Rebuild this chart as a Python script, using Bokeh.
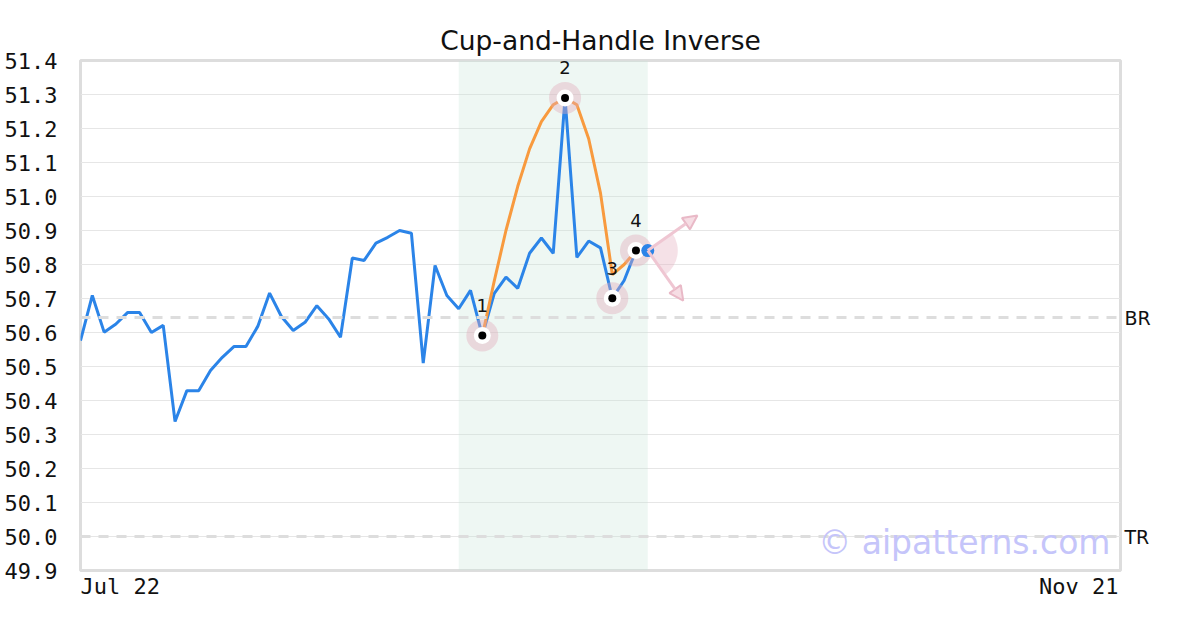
import math
from bokeh.plotting import figure
from bokeh.models import (ColumnDataSource, Span, Label, BoxAnnotation, Arrow, NormalHead,
                          FixedTicker, Range1d, PrintfTickFormatter, LinearAxis)
from bokeh.embed import file_html
from bokeh.resources import INLINE
from bokeh.core.properties import value

# ---------------- data ----------------
title_text = "Cup-and-Handle Inverse"
start_label = "Jul 22"
end_label = "Nov 21"
n_slots = 88  # business days from Jul 22 to Nov 21

price = [50.576, 50.709, 50.601, 50.625, 50.659, 50.659, 50.600, 50.621, 50.338, 50.429,
         50.429, 50.488, 50.527, 50.559, 50.559, 50.618, 50.716, 50.647, 50.606, 50.630,
         50.679, 50.640, 50.586, 50.819, 50.812, 50.863, 50.880, 50.900, 50.892, 50.510,
         50.797, 50.709, 50.670, 50.724, 50.591, 50.714, 50.763, 50.730, 50.833, 50.878,
         50.833, 51.290, 50.821, 50.869, 50.849, 50.701, 50.753, 50.841, 50.841]
price_idx = list(range(len(price)))

fit_idx = [34, 35, 36, 37, 38, 39, 40, 41, 42, 43, 44, 45, 46, 47]
fit_val = [50.59, 50.75, 50.90, 51.03, 51.14, 51.22, 51.27, 51.29, 51.27, 51.17, 51.01,
           50.77, 50.80, 50.84]

pivot_idx = [34, 41, 45, 47]
pivot_val = [50.591, 51.290, 50.701, 50.841]
pivot_lbl = ["1", "2", "3", "4"]

zone_start, zone_end = 32, 48
br_level = 50.644
tr_level = 50.0

proj_from = (48, 50.841)
proj_up = (52.2, 50.944)
proj_down = (51.0, 50.694)

y_ticks = [49.9, 50.0, 50.1, 50.2, 50.3, 50.4, 50.5, 50.6, 50.7, 50.8, 50.9, 51.0, 51.1,
           51.2, 51.3, 51.4]

# ---------------- figure ----------------
BLUE = "#2b84e8"
ORANGE = "#f89a3e"
PINK = "#e2a9ba"
TXT = "#111111"

FRAME_W = 1040
XFONT = 22
p = figure(width=1184, height=614, output_backend="svg", toolbar_location=None,
           x_range=Range1d(0, n_slots), y_range=Range1d(49.9, 51.4),
           min_border_left=80, min_border_right=64, min_border_top=60, min_border_bottom=44)
p.background_fill_color = "white"
p.border_fill_color = "white"
p.outline_line_color = "#dddddd"
p.outline_line_width = 3

p.title.text = title_text
p.title.align = "center"
p.title.text_font = "DejaVu Sans"
p.title.text_font_size = "26.5px"
p.title.text_font_style = "normal"
p.title.text_color = TXT

# x axis: only the two end dates, aligned inward with the frame edges
xa = p.xaxis[0]
nb = "\u00a0"
px_per_unit = FRAME_W / n_slots
end_tick = n_slots - (len(end_label) * 0.602 * XFONT / 2 + 2) / px_per_unit
xa.ticker = FixedTicker(ticks=[0, end_tick])
xa.major_label_overrides = {0: nb * len(start_label) + start_label, end_tick: end_label}
xa.axis_line_color = None
xa.major_tick_line_color = None
xa.minor_tick_line_color = None
xa.major_label_standoff = -3
xa.major_label_text_font = "DejaVu Sans Mono"
xa.major_label_text_font_size = f"{XFONT}px"
xa.major_label_text_color = TXT

p.xgrid.visible = False
p.ygrid.grid_line_color = "#e6e6e6"
p.ygrid.grid_line_width = 1

ya = p.yaxis[0]
ya.ticker = FixedTicker(ticks=y_ticks)
ya.formatter = PrintfTickFormatter(format="%.1f")
ya.axis_line_color = None
ya.major_tick_line_color = None
ya.minor_tick_line_color = None
ya.major_label_standoff = 17
ya.major_label_text_font = "DejaVu Sans Mono"
ya.major_label_text_font_size = "22px"
ya.major_label_text_color = TXT

# right axis for level names
ra = LinearAxis(ticker=FixedTicker(ticks=[br_level, tr_level]),
                major_label_overrides={br_level: "BR", tr_level: "TR"})
ra.axis_line_color = None
ra.major_tick_line_color = None
ra.minor_tick_line_color = None
ra.major_label_standoff = -2
ra.major_label_text_font = "DejaVu Sans"
ra.major_label_text_font_size = "19px"
ra.major_label_text_color = TXT
p.add_layout(ra, "right")

# shaded pattern zone
p.add_layout(BoxAnnotation(left=zone_start, right=zone_end, fill_color="#c8e6d8",
                           fill_alpha=0.3, line_color=None, level="underlay"))

# level lines
for lvl in (br_level, tr_level):
    p.add_layout(Span(location=lvl, dimension="width", line_color="#dddddd",
                      line_width=3, line_dash="10 8"))

# watermark
p.add_layout(Label(x=1030, y=28, x_units="screen", y_units="screen",
                   text="\u00a9 aipatterns.com", text_align="right", text_baseline="middle",
                   text_font="DejaVu Sans", text_font_size="33px",
                   text_color="#c5c5fa"))

# price line
src = ColumnDataSource(dict(x=price_idx, y=price))
p.line("x", "y", source=src, line_color=BLUE, line_width=3)

# fitted pattern curve
p.line(fit_idx, fit_val, line_color=ORANGE, line_width=3)

# projection wedge + arrows
p.wedge(x=[proj_from[0]], y=[proj_from[1]], radius=30, radius_units="screen",
        start_angle=math.radians(-54), end_angle=math.radians(35),
        fill_color=PINK, fill_alpha=0.35, line_color=None)
for tgt in (proj_up, proj_down):
    p.add_layout(Arrow(x_start=proj_from[0], y_start=proj_from[1], x_end=tgt[0], y_end=tgt[1],
                       line_color="#efc6d2", line_width=3,
                       end=NormalHead(size=14, fill_color="#f6dde4", line_color="#e9b9c7",
                                      line_width=2)))

# pivots
psrc = ColumnDataSource(dict(x=pivot_idx, y=pivot_val, t=pivot_lbl))
p.scatter("x", "y", source=psrc, size=32, fill_color=PINK, fill_alpha=0.4, line_color=None)
p.scatter("x", "y", source=psrc, size=17, fill_color="white", line_color=None)
p.scatter("x", "y", source=psrc, size=8, fill_color="black", line_color=None)
p.text("x", "y", text="t", source=psrc, y_offset=-30, text_align="center",
       text_baseline="middle", text_font=value("DejaVu Sans"), text_font_size="18px",
       text_color=TXT)

# last price dot
p.scatter([price_idx[-1]], [price[-1]], size=13, fill_color=BLUE, line_color=None)

open("out.html", "w").write(file_html(p, INLINE))
